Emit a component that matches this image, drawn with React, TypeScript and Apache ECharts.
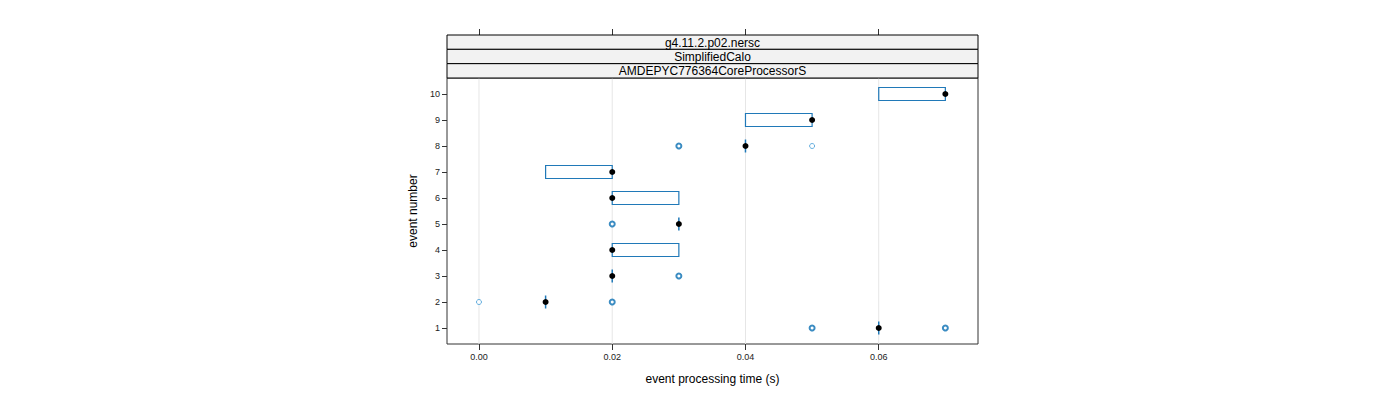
import React, { useEffect, useRef } from "react";
import * as echarts from "echarts";

const stripLabels = ["g4.11.2.p02.nersc", "SimplifiedCalo", "AMDEPYC776364CoreProcessorS"];
const events = [1, 2, 3, 4, 5, 6, 7, 8, 9, 10];
const q1 = [0.06, 0.01, 0.02, 0.02, 0.03, 0.02, 0.01, 0.04, 0.04, 0.06];
const q3 = [0.06, 0.01, 0.02, 0.03, 0.03, 0.03, 0.02, 0.04, 0.05, 0.07];
const medians = [0.06, 0.01, 0.02, 0.02, 0.03, 0.02, 0.02, 0.04, 0.05, 0.07];
// [time, event, count]
const outliers: number[][] = [
  [0.05, 1, 3], [0.07, 1, 3],
  [0.0, 2, 1], [0.02, 2, 3],
  [0.03, 3, 3],
  [0.02, 5, 3],
  [0.03, 8, 3], [0.05, 8, 1],
];
const xTicks = [0, 0.02, 0.04, 0.06];
const yTicks = events;

const BLUE = "#2079b8";
const FONT = "Liberation Sans, Arial, sans-serif";

export default function App() {
  const ref = useRef<HTMLDivElement>(null);
  useEffect(() => {
    if (!ref.current) return;
    const chart = echarts.init(ref.current, undefined, { renderer: "svg" });
    const L = 447, R = 978, T = 78, B = 344;
    const stripTop = 35;
    const stripH = (T - stripTop) / stripLabels.length;
    const graphics: any[] = [];
    stripLabels.forEach((s, i) => {
      graphics.push({
        type: "rect",
        shape: { x: L, y: stripTop + i * stripH, width: R - L, height: stripH },
        style: { fill: "#f2f2f2", stroke: "#000", lineWidth: 1 },
        z: 10,
      });
      graphics.push({
        type: "text",
        x: (L + R) / 2,
        y: stripTop + i * stripH + stripH / 2 + 0.5,
        style: { text: s, fill: "#000", font: `12px ${FONT}`, align: "center", verticalAlign: "middle" },
        z: 11,
      });
    });

    const boxData = events.map((e, i) => [q1[i], q3[i], e]);
    const xMin = -0.0048, xMax = 0.0749;
    chart.setOption({
      animation: false,
      grid: { left: L, right: 1400 - R, top: T, bottom: 400 - B, show: true, borderColor: "#333", borderWidth: 1, backgroundColor: "transparent" },
      graphic: graphics,
      xAxis: [
        {
          type: "value", min: xMin, max: xMax,
          name: "event processing time (s)", nameLocation: "middle", nameGap: 29,
          nameTextStyle: { fontFamily: FONT, fontSize: 12, color: "#000" },
          axisLine: { show: false, onZero: false },
          axisTick: { show: true, length: 6, inside: false, customValues: xTicks, lineStyle: { color: "#333" } },
          axisLabel: { show: true, customValues: xTicks, formatter: (v: number) => v.toFixed(2), fontFamily: FONT, fontSize: 9, color: "#222", margin: 8 },
          splitLine: { show: false },
        },
        {
          type: "value", min: xMin, max: xMax, position: "top", offset: T - stripTop,
          axisLine: { show: false, onZero: false },
          axisTick: { show: true, length: 6, inside: false, customValues: xTicks, lineStyle: { color: "#333" } },
          axisLabel: { show: false, customValues: xTicks },
          splitLine: { show: false },
        },
      ],
      yAxis: {
        type: "value", min: 0.385, max: 10.615,
        name: "event number", nameLocation: "middle", nameGap: 28, nameRotate: 90,
        nameTextStyle: { fontFamily: FONT, fontSize: 12, color: "#000" },
        axisLine: { show: false, onZero: false },
        axisTick: { show: true, length: 5, customValues: yTicks, lineStyle: { color: "#333" } },
        axisLabel: { show: true, customValues: yTicks, fontFamily: FONT, fontSize: 9, color: "#222", margin: 7 },
        splitLine: { show: false },
      },
      series: [
        {
          type: "custom",
          silent: true,
          data: xTicks.map((t) => [t]),
          renderItem: (params: any, api: any) => {
            const p = api.coord([api.value(0), 1]);
            const cs = params.coordSys;
            return {
              type: "line",
              shape: { x1: p[0], y1: cs.y, x2: p[0], y2: cs.y + cs.height },
              style: { stroke: "#e6e6e6", lineWidth: 1 },
              z2: 0,
            };
          },
          z: 1,
        },
        {
          type: "custom",
          data: boxData,
          renderItem: (params: any, api: any) => {
            const a = api.coord([api.value(0), api.value(2)]);
            const b = api.coord([api.value(1), api.value(2)]);
            const h = 6.5;
            if (Math.abs(b[0] - a[0]) < 0.5) {
              return {
                type: "line",
                shape: { x1: a[0], y1: a[1] - h, x2: a[0], y2: a[1] + h },
                style: { stroke: BLUE, lineWidth: 1.5 },
              };
            }
            return {
              type: "rect",
              shape: { x: a[0], y: a[1] - h, width: b[0] - a[0], height: 2 * h },
              style: { fill: "none", stroke: BLUE, lineWidth: 1.2 },
            };
          },
          z: 3,
        },
        {
          type: "scatter",
          data: outliers.map((o) => ({
            value: [o[0], o[1]],
            itemStyle: { color: "#fff", borderColor: o[2] > 1 ? "#0a6fb3" : "#3d9ad6", borderWidth: o[2] > 1 ? 2 : 1 },
          })),
          symbol: "circle",
          symbolSize: 5,
          z: 4,
        },
        {
          type: "scatter",
          data: events.map((e, i) => [medians[i], e]),
          symbol: "circle",
          symbolSize: 6,
          itemStyle: { color: "#000", opacity: 1 },
          z: 5,
        },
      ],
    });
    return () => chart.dispose();
  }, []);
  return <div ref={ref} style={{ width: 1400, height: 400, position: "absolute", left: 0, top: 0 }} />;
}
